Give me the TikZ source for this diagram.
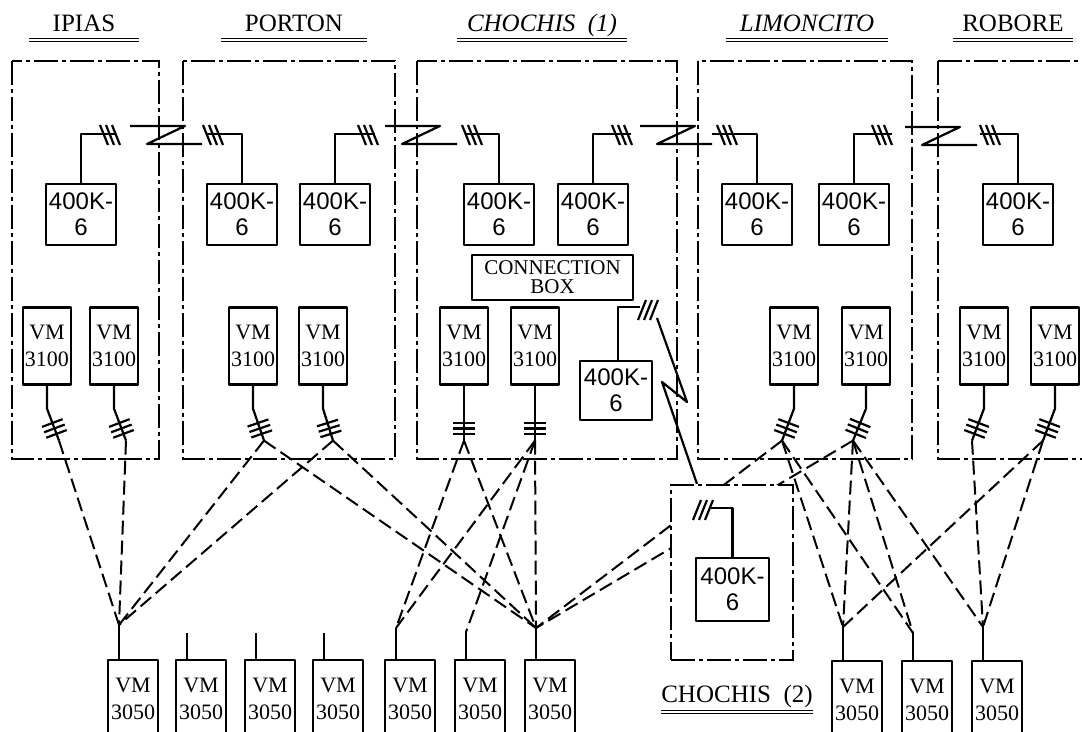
\documentclass[tikz,border=0pt]{standalone}
\usepackage{fontspec}
\setmainfont{Liberation Serif}
\newfontfamily\muxfont{Liberation Sans}
\usetikzlibrary{positioning,calc}
\tikzset{
  sl/.style={line width=1.1pt, line join=round},
  lk/.style={line width=1pt, dash pattern=on 7pt off 3pt},
  site/.style={line width=1.1pt, dash pattern=on 12pt off 2pt on 2pt off 2pt},
  mux/.style={draw, sl, fill=white, align=center, inner sep=0pt,
              minimum width=35pt, minimum height=30.5pt,
              font=\muxfont\fontsize{12}{13}\selectfont},
  vmb/.style={draw, sl, fill=white, align=center, inner sep=0pt,
              minimum width=24pt, minimum height=38.5pt,
              font=\fontsize{11}{13.5}\selectfont},
  vmt/.style={vmb, anchor=north, minimum width=25pt, minimum height=39pt},
  cbox/.style={draw, sl, fill=white, align=center, inner sep=0pt,
              minimum width=80.5pt, minimum height=22.5pt,
              font=\fontsize{10.5}{9.5}\selectfont},
  ttl/.style={inner sep=0pt, anchor=base, font=\fontsize{12.5}{14}\selectfont},
  ttli/.style={ttl, font=\fontsize{12.5}{14}\selectfont\itshape},
  uln/.style={double, double distance=0.7pt, line width=0.5pt},
  trk/.pic={\foreach \d in {-6,0,6} \draw[sl] (\d-4,-10) -- (\d+4,10);},
  trkb/.pic={\foreach \d in {-6,0,6} \draw[sl] (\d+4,-10) -- (\d-4,10);},
  rdo/.pic={\draw[sl] (-35,-9) -- (20,-9) -- (-18,9) -- (37,9);},
}
\newcommand\trunk[3]{%
  \draw[sl] (#1.south) -- ++(0,23) coordinate (#1k) -- ++(#2,32) coordinate (#3);
  \foreach \t in {0.45,0.62,0.79}
    \draw[sl] ($(#1k)!\t!(#3)!5.5pt!90:(#3)$) -- ($(#1k)!\t!(#3)!5.5pt!-90:(#3)$);}

\begin{document}
\begin{tikzpicture}[x=0.5pt, y=-0.5pt]
\useasboundingbox (0,0) rectangle (1082,732);
\clip (0,0) rectangle (1082,732);

\node[ttl, minimum width=54.5pt] (hIp) at (84,32) {IPIAS};
\node[ttl, minimum width=72.5pt] (hPo) at (294,32) {PORTON};
\node[ttli, minimum width=84.5pt] (hCh1) at (542,32) {CHOCHIS\ \ (1)};
\node[ttli, minimum width=80.5pt] (hLi) at (807,32) {LIMONCITO};
\node[ttl, minimum width=60pt] (hRo) at (1013,32) {ROBORE};
\foreach \h in {hIp,hPo,hCh1,hLi,hRo}
  \draw[uln] ([yshift=-4pt]\h.base west) -- ([yshift=-4pt]\h.base east);

\draw[site] (12,61) rectangle (159,459);
\draw[site] (183,61) rectangle (395,459);
\draw[site] (417,61) rectangle (677,459);
\draw[site] (698,61) rectangle (912,459);
\draw[site] (938,61) rectangle (1110,459);

\node[mux] (mIp) at (81,214.5) {400K-\\6};
\node[mux] (mPo1) at (242,214.5) {400K-\\6};
\node[mux] (mPo2) at (335,214.5) {400K-\\6};
\node[mux] (mCh1) at (499,214.5) {400K-\\6};
\node[mux] (mCh2) at (593,214.5) {400K-\\6};
\node[mux] (mLi1) at (757,214.5) {400K-\\6};
\node[mux] (mLi2) at (854,214.5) {400K-\\6};
\node[mux] (mRo) at (1018,214.5) {400K-\\6};

\draw[sl] (mIp.north) |- ++(35,-49);
\draw[sl] (mPo1.north) |- ++(-35,-49);
\draw[sl] (mPo2.north) |- ++(40,-49);
\draw[sl] (mCh1.north) |- ++(-34,-49);
\draw[sl] (mCh2.north) |- ++(38,-49);
\draw[sl] (mLi1.north) |- ++(-45,-49);
\draw[sl] (mLi2.north) |- ++(38,-49);
\draw[sl] (mRo.north) |- ++(-38,-49);
\pic at (110,135) {trk}; \pic at (213,135) {trk};
\pic at (368,135) {trk}; \pic at (472,135) {trk};
\pic at (622,135) {trk}; \pic at (727,135) {trk};
\pic at (882,135) {trk}; \pic at (990,135) {trk};
\pic at (165,135) {rdo}; \pic at (420,135) {rdo};
\pic at (675,135) {rdo}; \pic at (940,136) {rdo};

\node[cbox] (cbx) at (552.5,277.5) {CONNECTION\\BOX};

\node[vmb] (vIp1) at (47,346) {VM\\3100};
\node[vmb] (vIp2) at (114,346) {VM\\3100};
\node[vmb] (vPo1) at (253,346) {VM\\3100};
\node[vmb] (vPo2) at (323,346) {VM\\3100};
\node[vmb] (vCh1) at (464,346) {VM\\3100};
\node[vmb] (vCh2) at (535,346) {VM\\3100};
\node[vmb] (vLi1) at (794,346) {VM\\3100};
\node[vmb] (vLi2) at (866,346) {VM\\3100};
\node[vmb] (vRo1) at (984,346) {VM\\3100};
\node[vmb] (vRo2) at (1055,346) {VM\\3100};

\trunk{vIp1}{12}{eIp1}
\trunk{vIp2}{12}{eIp2}
\trunk{vPo1}{11}{ePo1}
\trunk{vPo2}{10}{ePo2}
\trunk{vCh1}{0}{eCh1}
\trunk{vCh2}{0}{eCh2}
\trunk{vLi1}{-12}{eLi1}
\trunk{vLi2}{-13}{eLi2}
\trunk{vRo1}{-12}{eRo1}
\trunk{vRo2}{-12}{eRo2}

\node[mux, minimum width=36pt, minimum height=29.5pt] (mCh3) at (616,390.5) {400K-\\6};
\draw[sl] ([xshift=1pt]mCh3.north) |- ++(22,-53);
\pic at (648,310) {trkb};

\node[vmt] (b1) at (133,659) {VM\\3050};
\node[vmt] (b2) at (201,659) {VM\\3050};
\node[vmt] (b3) at (270,659) {VM\\3050};
\node[vmt] (b4) at (338,659) {VM\\3050};
\node[vmt] (b5) at (410,659) {VM\\3050};
\node[vmt] (b6) at (480,659) {VM\\3050};
\node[vmt] (b7) at (550,659) {VM\\3050};
\node[vmt] (b8) at (857,660) {VM\\3050};
\node[vmt] (b9) at (927,660) {VM\\3050};
\node[vmt] (b10) at (997,660) {VM\\3050};
\foreach \b/\h in {b1/34,b2/26,b3/26,b4/26,b5/31,b6/27,b7/31,b8/33,b9/27,b10/33}
  \draw[sl] ([xshift=-7pt]\b.north) -- ++(0,-\h) coordinate (q\b);

\foreach \a/\b in {eIp1/qb1,eIp2/qb1,ePo1/qb1,ePo2/qb1,ePo1/qb7,ePo2/qb7,
                   eCh1/qb5,eCh1/qb7,eCh2/qb5,eCh2/qb6,eCh2/qb7,
                   eLi1/qb7,eLi2/qb7,eLi1/qb8,eLi2/qb8,eLi1/qb9,eLi2/qb9,
                   eLi2/qb10,eRo1/qb10,eRo2/qb10,eRo2/qb8}
  \draw[lk] (\a) -- (\b);

\node[draw, site, fill=white, inner sep=0pt, minimum width=61pt, minimum height=87.5pt] (c2) at (732,572.5) {};
\node[mux, minimum width=36.5pt, minimum height=31.5pt] (mCh4) at (732.5,589.5) {400K-\\6};
\draw[sl] (mCh4.north) |- ++(-22,-49);
\pic at (703,510) {trkb};
\draw[sl] (657,318) -- (687,402) -- (662,382) -- ([xshift=-17.5pt]c2.north);

\node[ttl, minimum width=70pt] (hCh2) at (737,702) {CHOCHIS\ \ (2)};
\draw[uln] ([yshift=-5pt]hCh2.base west) -- ([yshift=-5pt]hCh2.base east);
\end{tikzpicture}
\end{document}
